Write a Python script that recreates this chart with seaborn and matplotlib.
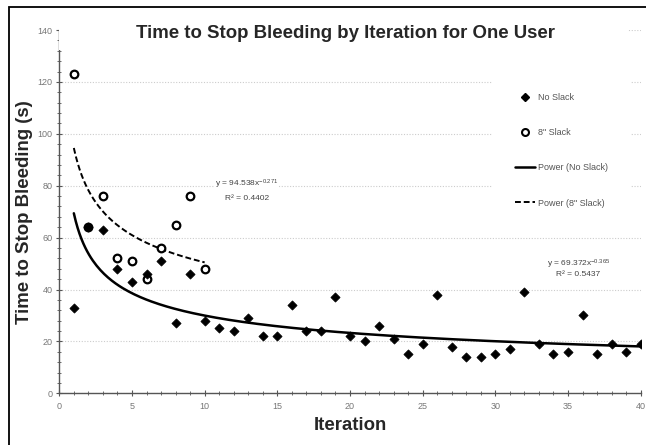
import numpy as np
import pandas as pd
import matplotlib
matplotlib.use("Agg")
import matplotlib.pyplot as plt
from matplotlib.lines import Line2D
from matplotlib.patches import Rectangle
from matplotlib.ticker import MultipleLocator
import seaborn as sns

# data
iteration_no_slack = list(range(1, 41))
time_no_slack = [33, 64, 63, 48, 43, 46, 51, 27, 46, 28,
                 25, 24, 29, 22, 22, 34, 24, 24, 37, 22,
                 20, 26, 21, 15, 19, 38, 18, 14, 14, 15,
                 17, 39, 19, 15, 16, 30, 15, 19, 16, 19]
iteration_slack = list(range(1, 11))
time_slack = [123, 64, 76, 52, 51, 44, 56, 65, 76, 48]

eq_no_slack = ("y = 69.372x$^{-0.365}$", "R² = 0.5437")
eq_slack = ("y = 94.538x$^{-0.271}$", "R² = 0.4402")


def power_fit(x, y):
    # excel style power trendline: fit in log-log space
    b, log_a = np.polyfit(np.log(x), np.log(y), 1)
    return np.exp(log_a), b


sns.set_style("white")
plt.rcParams["font.family"] = ["Liberation Sans", "DejaVu Sans"]
plt.rcParams["mathtext.fontset"] = "custom"
plt.rcParams["mathtext.rm"] = "Liberation Sans"
plt.rcParams["mathtext.it"] = "Liberation Sans"

W, H = 646, 445
fig = plt.figure(figsize=(6.46, 4.45), dpi=100)
ax = fig.add_axes([59.3 / W, 1 - 393.3 / H, (640.7 - 59.3) / W, (393.3 - 30) / H])

df_no = pd.DataFrame({"x": iteration_no_slack, "y": time_no_slack})
df_sl = pd.DataFrame({"x": iteration_slack, "y": time_slack})

# trend lines
a1, b1 = power_fit(df_no["x"], df_no["y"])
xs1 = np.linspace(1, 40, 300)
sns.lineplot(x=xs1, y=a1 * xs1 ** b1, ax=ax, color="black", lw=1.8, zorder=2)
a2, b2 = power_fit(df_sl["x"], df_sl["y"])
xs2 = np.linspace(1, 10, 200)
sns.lineplot(x=xs2, y=a2 * xs2 ** b2, ax=ax, color="black", lw=1.4,
             linestyle=(0, (3, 1.5)), zorder=2)

# points
sns.scatterplot(data=df_sl, x="x", y="y", ax=ax, marker="o", s=30,
                facecolor="white", edgecolor="black", linewidth=1.6, zorder=3)
sns.scatterplot(data=df_no, x="x", y="y", ax=ax, marker="D", s=22,
                color="black", edgecolor="black", linewidth=0.5, zorder=4)

ax.set_xlim(0, 40)
ax.set_ylim(0, 140)
ax.xaxis.set_major_locator(MultipleLocator(5))
ax.xaxis.set_minor_locator(MultipleLocator(1))
ax.yaxis.set_major_locator(MultipleLocator(20))
ax.yaxis.set_minor_locator(MultipleLocator(4))
ax.tick_params(which="both", direction="inout", colors="#555555", labelsize=6.5,
               labelcolor="#777777", left=True, bottom=True)
ax.tick_params(which="major", length=4, width=0.8)
ax.tick_params(which="minor", length=3, width=0.6)
ax.tick_params(axis="x", which="major", pad=4)
ax.tick_params(axis="y", which="major", pad=3)
for side in ["top", "right"]:
    ax.spines[side].set_visible(False)
for side in ["left", "bottom"]:
    ax.spines[side].set_color("#555555")
    ax.spines[side].set_linewidth(1.0)
ax.grid(axis="y", which="major", color="#cccccc", linestyle=(0, (1, 1.5)), lw=0.8)
ax.set_axisbelow(True)

ax.set_xlabel("Iteration", fontsize=13.4, fontweight="bold")
ax.set_ylabel("Time to Stop Bleeding (s)", fontsize=13.4, fontweight="bold")
ax.xaxis.set_label_coords(0.5, -(417 - 393.3) / (393.3 - 30))
ax.yaxis.set_label_coords(-(59.3 - 33) / (640.7 - 59.3), 0.5)

# trendline equations
ax.text(12.9, 80.5, eq_slack[0], fontsize=6, color="#444444", ha="center", va="center",
        bbox=dict(facecolor="white", edgecolor="none", pad=0.5))
ax.text(12.9, 75.2, eq_slack[1], fontsize=6, color="#444444", ha="center", va="center")
ax.text(35.7, 49.8, eq_no_slack[0], fontsize=6, color="#444444", ha="center", va="center")
ax.text(35.7, 45.6, eq_no_slack[1], fontsize=6, color="#444444", ha="center", va="center")

# legend area: white block hiding the gridlines, frameless legend on top
ax.add_patch(Rectangle((492 / W, 1 - 225 / H), (631 - 492) / W, (225 - 62) / H,
                       transform=fig.transFigure, facecolor="white",
                       edgecolor="none", zorder=1))
handles = [
    Line2D([], [], marker="D", ls="none", color="black", markersize=4),
    Line2D([], [], marker="o", ls="none", markerfacecolor="white",
           markeredgecolor="black", markeredgewidth=1.5, markersize=5),
    Line2D([], [], color="black", lw=1.8),
    Line2D([], [], color="black", lw=1.4, linestyle=(0, (3, 1.5))),
]
labels = ["No Slack", '8" Slack', "Power (No Slack)", 'Power (8" Slack)']
leg = ax.legend(handles, labels, loc="upper left",
                bbox_to_anchor=(515 / W, 1 - 93 / H), bbox_transform=fig.transFigure,
                fontsize=6.5, frameon=False, labelspacing=2.9, handlelength=2.2,
                handletextpad=0.3, borderpad=0, borderaxespad=0)
for t in leg.get_texts():
    t.set_color("#555555")

# white title area covering top of the plot, then title
fig.patches.append(Rectangle((58.5 / W, 1 - 50 / H), (628 - 58.5) / W, 32 / H,
                             transform=fig.transFigure, facecolor="white",
                             edgecolor="none", zorder=5))
fig.text(346 / W, 1 - 33 / H, "Time to Stop Bleeding by Iteration for One User",
         fontsize=13.4, fontweight="bold", ha="center", va="center", zorder=6)

# outer chart frame
fig.patches.append(Rectangle((9 / W, -0.05), 1.0, 1 - 7 / H + 0.05,
                             transform=fig.transFigure, facecolor="none",
                             edgecolor="black", lw=1.3, zorder=7))

fig.savefig("out.png", dpi=100)
